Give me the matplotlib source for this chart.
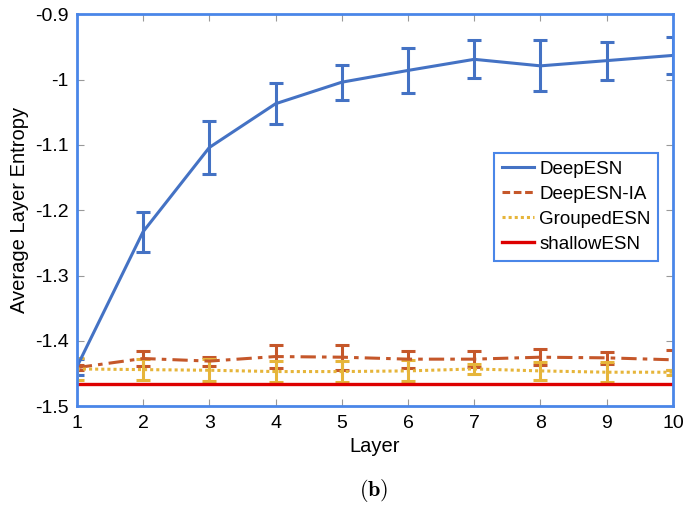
import numpy as np
import matplotlib.pyplot as plt
from matplotlib.lines import Line2D

plt.rcParams['font.family'] = ['Liberation Sans', 'DejaVu Sans']
plt.rcParams['mathtext.fontset'] = 'cm'

layers = np.arange(1, 11)

deep = [-1.440, -1.233, -1.104, -1.037, -1.004, -0.986, -0.969, -0.979, -0.971, -0.963]
deep_err = [0.012, 0.031, 0.041, 0.031, 0.027, 0.034, 0.029, 0.039, 0.029, 0.028]

deep_ia = [-1.441, -1.427, -1.431, -1.424, -1.425, -1.428, -1.428, -1.425, -1.426, -1.429]
deep_ia_err = [0.004, 0.011, 0.007, 0.018, 0.019, 0.013, 0.012, 0.012, 0.009, 0.015]

grouped = [-1.443, -1.444, -1.445, -1.447, -1.447, -1.446, -1.443, -1.446, -1.448, -1.448]
grouped_err = [0.017, 0.016, 0.017, 0.016, 0.016, 0.016, 0.008, 0.014, 0.015, 0.004]

shallow = [-1.466] * 10

names = ['DeepESN', 'DeepESN-IA', 'GroupedESN', 'shallowESN']

blue = '#4472c4'
orange = '#c5572a'
yellow = '#e6b53a'
red = '#dd0000'
frame = '#4a86e8'

dashdot = (0, (5, 2, 1.5, 2))
dotted = (0, (1, 1))

fig = plt.figure(figsize=(6.86, 5.09), dpi=100)
ax = fig.add_axes([0.112, 0.202, 0.869, 0.770])

ax.errorbar(layers, deep, yerr=deep_err, color=blue, lw=2.2, capsize=5, capthick=2.2,
            elinewidth=2.2)
ax.errorbar(layers, deep_ia, yerr=deep_ia_err, color=orange, lw=2.2, ls=dashdot,
            capsize=5, capthick=2.2, elinewidth=2.2)
ax.errorbar(layers, grouped, yerr=grouped_err, color=yellow, lw=2.2, ls=dotted,
            capsize=5, capthick=2.2, elinewidth=2.2)
ax.plot(layers, shallow, color=red, lw=2.4)

ax.set_xlim(1, 10)
ax.set_ylim(-1.5, -0.9)
ax.set_xticks(layers)
ax.set_yticks([-1.5, -1.4, -1.3, -1.2, -1.1, -1.0, -0.9])
ax.set_yticklabels(['-1.5', '-1.4', '-1.3', '-1.2', '-1.1', '-1', '-0.9'])
ax.tick_params(direction='in', which='both', top=True, right=True, color='#999999',
               length=5, labelsize=14, pad=6)
for s in ax.spines.values():
    s.set_color(frame)
    s.set_linewidth(2)

ax.set_xlabel('Layer', fontsize=14.5)
ax.set_ylabel('Average Layer Entropy', fontsize=14.5)

handles = [Line2D([], [], color=blue, lw=2.2),
           Line2D([], [], color=orange, lw=2.2, ls=(0, (2.5, 1.2))),
           Line2D([], [], color=yellow, lw=2.2, ls=dotted),
           Line2D([], [], color=red, lw=2.4)]
leg = ax.legend(handles, names, loc='upper left', bbox_to_anchor=(0.70, 0.645), fontsize=13.5,
                fancybox=False, framealpha=1, borderpad=0.4, handlelength=1.7,
                handletextpad=0.3, labelspacing=0.42, borderaxespad=0)
leg.get_frame().set_edgecolor(frame)
leg.get_frame().set_linewidth(1.5)

fig.text(0.545, 0.025, r'$\mathbf{(b)}$', ha='center', fontsize=16)

fig.savefig('out.png', dpi=100)
